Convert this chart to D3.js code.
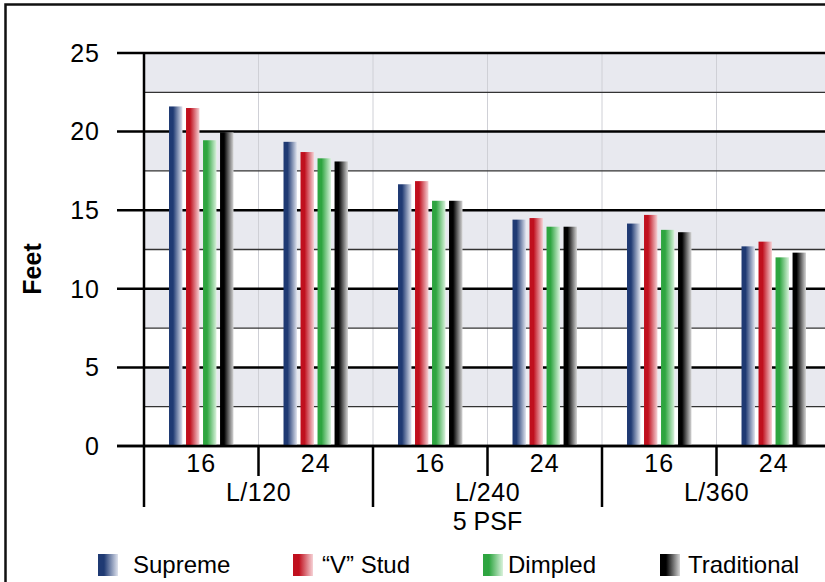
<!DOCTYPE html>
<html>
<head>
<meta charset="utf-8">
<script src="https://cdn.jsdelivr.net/npm/d3@7"></script>
<style>
  html, body { margin: 0; padding: 0; background: #fff; }
  svg { display: block; }
  text { font-family: "Liberation Sans", Arial, Helvetica, sans-serif; fill: #000; }
</style>
</head>
<body>
<svg id="chart" width="825" height="582"></svg>
<script>
// ---- data ----
const groups = ["L/120", "L/240", "L/360"];
const spacings = ["16", "24"];
const seriesNames = ["Supreme", "\u201CV\u201D Stud", "Dimpled", "Traditional"];
const supreme     = [21.6, 19.35, 16.65, 14.4, 14.15, 12.7];
const vStud       = [21.5, 18.7, 16.85, 14.5, 14.7, 13.0];
const dimpled     = [19.45, 18.3, 15.6, 13.95, 13.75, 12.0];
const traditional = [19.95, 18.1, 15.6, 13.95, 13.6, 12.3];
const yTicks = [0, 5, 10, 15, 20, 25];
const yMinor = [2.5, 7.5, 12.5, 17.5, 22.5];
const bands = [[2.5, 5], [7.5, 10], [12.5, 15], [17.5, 20], [22.5, 25]];
const xTitle = "5 PSF";
const yTitle = "Feet";

const seriesValues = [supreme, vStud, dimpled, traditional];
const seriesColors = [
  ["#1f3a73", "#dfe3ee"],
  ["#c0101e", "#f6d2d6"],
  ["#2ea540", "#d9f2dc"],
  ["#000000", "#d6d6d6"]
];

// subgroups
const subs = [];
groups.forEach(g => spacings.forEach(s => subs.push(g + "|" + s)));

const svg = d3.select("#chart");

// outer frame
svg.append("rect").attr("x", 5.5).attr("y", 4.5).attr("width", 830).attr("height", 590)
  .attr("fill", "none").attr("stroke", "#111").attr("stroke-width", 2.5);

const plotLeft = 144, plotRight = 831, yTop = 53, yBottom = 446;

const x = d3.scaleBand().domain(subs).range([plotLeft, plotRight]);
const xs = d3.scaleBand().domain(d3.range(seriesNames.length))
  .range([0, x.bandwidth()]).paddingInner(0.21).paddingOuter(1.47);
const y = d3.scaleLinear().domain([0, 25]).range([yBottom, yTop]);

// gradients
const defs = svg.append("defs");
seriesColors.forEach((c, i) => {
  const g = defs.append("linearGradient").attr("id", "grad" + i)
    .attr("x1", "0%").attr("x2", "100%").attr("y1", "0%").attr("y2", "0%");
  g.append("stop").attr("offset", "0%").attr("stop-color", c[0]);
  g.append("stop").attr("offset", "30%").attr("stop-color", c[0]);
  g.append("stop").attr("offset", "100%").attr("stop-color", c[1]);
});

// bands
svg.append("g").selectAll("rect").data(bands).join("rect")
  .attr("x", plotLeft).attr("width", plotRight - plotLeft)
  .attr("y", d => y(d[1])).attr("height", d => y(d[0]) - y(d[1]))
  .attr("fill", "#e8e9ef");

// vertical light grid lines
svg.append("g").selectAll("line").data(subs.slice(1)).join("line")
  .attr("x1", d => x(d)).attr("x2", d => x(d))
  .attr("y1", yTop).attr("y2", yBottom)
  .attr("stroke", "#cfd0d6").attr("stroke-width", 1);

// minor grid lines
svg.append("g").selectAll("line").data(yMinor).join("line")
  .attr("x1", plotLeft).attr("x2", plotRight)
  .attr("y1", d => y(d)).attr("y2", d => y(d))
  .attr("stroke", "#333").attr("stroke-width", 1.3);

// major grid lines
svg.append("g").selectAll("line").data(yTicks).join("line")
  .attr("x1", 117).attr("x2", plotRight)
  .attr("y1", d => y(d)).attr("y2", d => y(d))
  .attr("stroke", "#000").attr("stroke-width", 2.5);

// bars
const barG = svg.append("g");
seriesValues.forEach((vals, si) => {
  barG.append("g").selectAll("rect").data(vals).join("rect")
    .attr("x", (d, i) => x(subs[i]) + xs(si))
    .attr("width", xs.bandwidth())
    .attr("y", d => y(d))
    .attr("height", d => y(0) - y(d))
    .attr("fill", "url(#grad" + si + ")");
});

// redraw zero line on top
svg.append("line").attr("x1", 117).attr("x2", plotRight)
  .attr("y1", y(0)).attr("y2", y(0)).attr("stroke", "#000").attr("stroke-width", 2.5);

// y axis line
svg.append("line").attr("x1", plotLeft).attr("x2", plotLeft)
  .attr("y1", yTop).attr("y2", 507).attr("stroke", "#000").attr("stroke-width", 2.5);

// y tick labels
svg.append("g").selectAll("text").data(yTicks).join("text")
  .attr("x", 100).attr("y", d => y(d))
  .attr("dy", "0.35em")
  .attr("text-anchor", "end")
  .style("font-size", "25px").style("letter-spacing", "1px")
  .text(d => d);

// y title
svg.append("text")
  .attr("transform", "translate(41,269) rotate(-90)")
  .attr("text-anchor", "middle")
  .style("font-size", "25px").style("font-weight", "bold")
  .text(yTitle);

// x axis ticks: small between spacings, long between groups
subs.forEach((s, i) => {
  if (i % 2 === 1) {
    svg.append("line").attr("x1", x(s)).attr("x2", x(s))
      .attr("y1", yBottom).attr("y2", 476).attr("stroke", "#000").attr("stroke-width", 2.5);
  } else if (i > 0) {
    svg.append("line").attr("x1", x(s)).attr("x2", x(s))
      .attr("y1", yBottom).attr("y2", 507).attr("stroke", "#000").attr("stroke-width", 2.5);
  }
});

// subgroup labels
svg.append("g").selectAll("text").data(subs).join("text")
  .attr("x", d => x(d) + x.bandwidth() / 2)
  .attr("y", 472)
  .attr("text-anchor", "middle")
  .style("font-size", "25px").style("letter-spacing", "1px")
  .text(d => d.split("|")[1]);

// group labels
svg.append("g").selectAll("text").data(groups).join("text")
  .attr("x", g => x(g + "|" + spacings[0]) + x.bandwidth())
  .attr("y", 501)
  .attr("text-anchor", "middle")
  .style("font-size", "25px").style("letter-spacing", "0.5px")
  .text(g => g);

// x title
svg.append("text")
  .attr("x", (plotLeft + plotRight) / 2)
  .attr("y", 530)
  .attr("text-anchor", "middle")
  .style("font-size", "25px")
  .text(xTitle);

// legend
const legendX = [98, 293, 483, 660];
const lg = svg.append("g").selectAll("g").data(seriesNames).join("g")
  .attr("transform", (d, i) => `translate(${legendX[i]},554)`);
lg.append("rect").attr("width", 20).attr("height", 22)
  .attr("fill", (d, i) => "url(#grad" + i + ")");
lg.append("text").attr("x", (d, i) => [35, 29, 25, 28][i]).attr("y", 19)
  .style("font-size", "24px")
  .text(d => d);
</script>
</body>
</html>
